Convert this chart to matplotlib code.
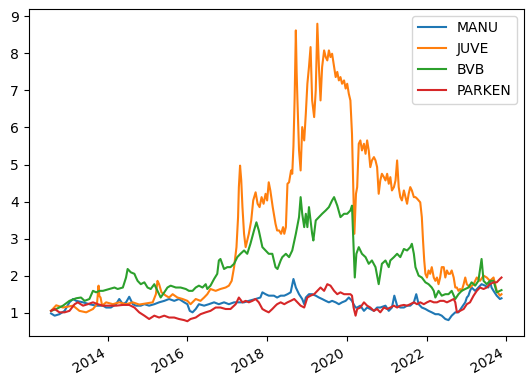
import matplotlib
matplotlib.use("Agg")
import matplotlib.pyplot as plt
import numpy as np
import pandas as pd

# normalised prices (first day = 1), dates as decimal years
manu_t = [2012.58, 2012.67, 2012.79, 2012.92, 2013.04, 2013.13, 2013.21, 2013.38, 2013.54, 2013.71,
          2013.88, 2013.96, 2014.08, 2014.21, 2014.29, 2014.38, 2014.46, 2014.54, 2014.63, 2014.71,
          2014.83, 2014.92, 2015.04, 2015.17, 2015.29, 2015.42, 2015.54, 2015.67, 2015.79, 2015.92,
          2016.00, 2016.06, 2016.13, 2016.21, 2016.29, 2016.42, 2016.54, 2016.67, 2016.79, 2016.92,
          2017.04, 2017.17, 2017.29, 2017.42, 2017.54, 2017.71, 2017.83, 2017.88, 2017.96, 2018.04,
          2018.17, 2018.25, 2018.34, 2018.43, 2018.51, 2018.59, 2018.66, 2018.72, 2018.80, 2018.88,
          2018.93, 2018.97, 2019.05, 2019.13, 2019.22, 2019.30, 2019.38, 2019.47, 2019.55, 2019.63,
          2019.72, 2019.80, 2019.88, 2019.97, 2020.05, 2020.13, 2020.17, 2020.22, 2020.26, 2020.34,
          2020.43, 2020.51, 2020.59, 2020.68, 2020.76, 2020.84, 2020.97, 2021.05, 2021.13, 2021.19,
          2021.26, 2021.34, 2021.43, 2021.51, 2021.59, 2021.68, 2021.74, 2021.80, 2021.88, 2021.97,
          2022.05, 2022.13, 2022.22, 2022.30, 2022.38, 2022.47, 2022.55, 2022.63, 2022.72, 2022.80,
          2022.88, 2022.97, 2023.01, 2023.05, 2023.09, 2023.13, 2023.22, 2023.30, 2023.38, 2023.47,
          2023.55, 2023.59, 2023.63, 2023.68, 2023.76, 2023.84, 2023.88]
manu = [0.98, 0.92, 0.96, 1.05, 1.28, 1.37, 1.32, 1.28, 1.23, 1.19,
        1.19, 1.14, 1.14, 1.23, 1.37, 1.23, 1.28, 1.43, 1.23, 1.19,
        1.19, 1.23, 1.19, 1.23, 1.28, 1.32, 1.37, 1.32, 1.37, 1.28,
        1.23, 1.05, 1.01, 1.10, 1.23, 1.19, 1.23, 1.28, 1.23, 1.28,
        1.23, 1.28, 1.28, 1.28, 1.32, 1.37, 1.41, 1.55, 1.50, 1.46,
        1.46, 1.41, 1.46, 1.46, 1.50, 1.55, 1.91, 1.68, 1.50, 1.37,
        1.23, 1.41, 1.50, 1.50, 1.46, 1.41, 1.37, 1.32, 1.28, 1.32,
        1.28, 1.23, 1.28, 1.32, 1.41, 1.32, 1.23, 1.14, 1.14, 1.19,
        1.05, 1.14, 1.10, 1.05, 1.14, 1.14, 1.19, 1.05, 1.14, 1.46,
        1.19, 1.14, 1.14, 1.19, 1.19, 1.28, 1.50, 1.23, 1.14, 1.10,
        1.05, 1.01, 0.96, 0.96, 0.92, 0.83, 0.80, 0.92, 1.01, 1.01,
        1.14, 1.28, 1.41, 1.46, 1.59, 1.68, 1.59, 1.68, 1.77, 1.73,
        1.68, 1.86, 1.68, 1.59, 1.46, 1.37, 1.39]

juve_t = [2012.58, 2012.71, 2012.88, 2013.13, 2013.29, 2013.46, 2013.63, 2013.73, 2013.77, 2013.79,
          2013.82, 2013.86, 2013.96, 2014.13, 2014.29, 2014.46, 2014.63, 2014.79, 2014.96, 2015.13,
          2015.21, 2015.25, 2015.29, 2015.35, 2015.46, 2015.54, 2015.63, 2015.75, 2015.88, 2016.00,
          2016.08, 2016.21, 2016.33, 2016.42, 2016.50, 2016.58, 2016.71, 2016.83, 2016.96, 2017.04,
          2017.11, 2017.17, 2017.23, 2017.27, 2017.29, 2017.32, 2017.35, 2017.38, 2017.42, 2017.46,
          2017.50, 2017.54, 2017.60, 2017.65, 2017.71, 2017.76, 2017.81, 2017.86, 2017.91, 2017.96,
          2018.00, 2018.04, 2018.08, 2018.14, 2018.21, 2018.25, 2018.30, 2018.35, 2018.40, 2018.43,
          2018.47, 2018.51, 2018.55, 2018.60, 2018.63, 2018.66, 2018.69, 2018.72, 2018.74, 2018.76,
          2018.80, 2018.84, 2018.88, 2018.93, 2018.97, 2019.01, 2019.05, 2019.09, 2019.13, 2019.18,
          2019.22, 2019.26, 2019.30, 2019.34, 2019.38, 2019.43, 2019.47, 2019.51, 2019.55, 2019.59,
          2019.63, 2019.68, 2019.72, 2019.76, 2019.80, 2019.84, 2019.88, 2019.93, 2019.97, 2020.01,
          2020.05, 2020.09, 2020.13, 2020.16, 2020.19, 2020.23, 2020.26, 2020.30, 2020.34, 2020.38,
          2020.43, 2020.47, 2020.51, 2020.55, 2020.59, 2020.63, 2020.68, 2020.72, 2020.76, 2020.80,
          2020.84, 2020.88, 2020.93, 2020.97, 2021.01, 2021.05, 2021.09, 2021.13, 2021.18, 2021.22,
          2021.26, 2021.30, 2021.34, 2021.38, 2021.43, 2021.47, 2021.51, 2021.55, 2021.59, 2021.63,
          2021.68, 2021.72, 2021.76, 2021.80, 2021.84, 2021.88, 2021.91, 2021.94, 2021.97, 2022.01,
          2022.05, 2022.09, 2022.13, 2022.18, 2022.22, 2022.26, 2022.30, 2022.34, 2022.38, 2022.43,
          2022.47, 2022.51, 2022.55, 2022.59, 2022.63, 2022.68, 2022.72, 2022.76, 2022.80, 2022.84,
          2022.88, 2022.93, 2022.97, 2023.01, 2023.09, 2023.18, 2023.26, 2023.34, 2023.43, 2023.51,
          2023.59, 2023.68, 2023.76, 2023.84, 2023.88]
juve = [1.05, 1.20, 1.14, 1.19, 1.05, 1.01, 1.10, 1.23, 1.73, 1.45,
        1.41, 1.19, 1.28, 1.23, 1.28, 1.23, 1.28, 1.22, 1.25, 1.28,
        1.50, 1.86, 1.77, 1.55, 1.46, 1.41, 1.50, 1.41, 1.37, 1.32,
        1.23, 1.37, 1.32, 1.41, 1.50, 1.64, 1.59, 1.64, 1.68, 1.73,
        1.86, 2.23, 2.77, 3.58, 4.39, 4.97, 4.57, 3.85, 3.13, 2.77,
        2.95, 3.13, 3.49, 4.03, 4.25, 3.94, 3.85, 4.12, 3.94, 4.21,
        4.03, 4.52, 4.30, 3.85, 3.40, 3.22, 3.22, 3.13, 3.31, 3.13,
        3.31, 4.48, 4.52, 4.84, 4.75, 5.50, 6.80, 8.62, 7.50, 6.73,
        5.38, 4.84, 6.01, 5.65, 6.37, 7.18, 7.63, 8.17, 6.73, 6.28,
        7.00, 8.80, 7.63, 6.73, 7.63, 8.08, 7.90, 7.81, 8.08, 7.90,
        7.99, 7.63, 7.36, 7.50, 7.27, 7.36, 7.18, 7.27, 7.05, 7.18,
        6.91, 6.73, 5.83, 4.48, 3.13, 4.21, 4.39, 5.56, 5.65, 5.38,
        5.56, 5.29, 5.65, 5.38, 4.93, 5.11, 5.20, 5.11, 4.93, 4.21,
        4.57, 4.75, 4.66, 4.57, 4.75, 4.48, 4.66, 4.30, 4.39, 4.57,
        5.11, 4.39, 4.12, 4.03, 4.30, 4.12, 3.94, 4.21, 4.39, 4.30,
        4.12, 4.12, 4.08, 4.03, 3.98, 3.58, 2.95, 2.41, 2.05, 1.95,
        2.14, 2.05, 2.23, 1.95, 1.86, 1.95, 1.77, 1.95, 2.23, 2.23,
        1.95, 2.14, 2.05, 2.05, 2.14, 1.95, 1.68, 1.68, 1.59, 1.64,
        1.59, 1.77, 1.95, 1.77, 1.68, 1.77, 1.95, 1.86, 2.00, 1.95,
        1.86, 1.95, 1.59, 1.46, 1.50]

bvb_t = [2012.58, 2012.71, 2012.88, 2013.04, 2013.21, 2013.33, 2013.42, 2013.54, 2013.63, 2013.71,
         2013.79, 2013.88, 2014.04, 2014.17, 2014.25, 2014.38, 2014.46, 2014.50, 2014.58, 2014.67,
         2014.71, 2014.75, 2014.83, 2014.92, 2015.00, 2015.08, 2015.17, 2015.25, 2015.33, 2015.42,
         2015.50, 2015.58, 2015.71, 2015.83, 2015.96, 2016.04, 2016.13, 2016.21, 2016.29, 2016.38,
         2016.46, 2016.50, 2016.58, 2016.67, 2016.75, 2016.79, 2016.83, 2016.92, 2017.00, 2017.08,
         2017.17, 2017.25, 2017.33, 2017.42, 2017.50, 2017.58, 2017.67, 2017.73, 2017.79, 2017.88,
         2017.96, 2018.04, 2018.13, 2018.21, 2018.26, 2018.34, 2018.38, 2018.47, 2018.55, 2018.63,
         2018.72, 2018.80, 2018.84, 2018.88, 2018.93, 2018.97, 2019.01, 2019.05, 2019.09, 2019.13,
         2019.16, 2019.22, 2019.30, 2019.38, 2019.47, 2019.55, 2019.63, 2019.68, 2019.76, 2019.84,
         2019.93, 2020.01, 2020.09, 2020.13, 2020.17, 2020.20, 2020.24, 2020.30, 2020.38, 2020.47,
         2020.55, 2020.63, 2020.72, 2020.80, 2020.88, 2020.97, 2021.05, 2021.09, 2021.18, 2021.26,
         2021.34, 2021.43, 2021.51, 2021.59, 2021.63, 2021.68, 2021.72, 2021.80, 2021.88, 2021.97,
         2022.05, 2022.13, 2022.18, 2022.22, 2022.30, 2022.38, 2022.47, 2022.55, 2022.63, 2022.72,
         2022.80, 2022.88, 2022.97, 2023.05, 2023.13, 2023.22, 2023.30, 2023.38, 2023.43, 2023.51,
         2023.59, 2023.68, 2023.76, 2023.84, 2023.88]
bvb = [1.05, 1.10, 1.19, 1.32, 1.39, 1.41, 1.32, 1.37, 1.59, 1.55,
       1.59, 1.59, 1.64, 1.68, 1.64, 1.68, 1.95, 2.18, 2.09, 2.05,
       1.95, 1.86, 1.77, 1.82, 1.68, 1.64, 1.77, 1.59, 1.41, 1.55,
       1.68, 1.73, 1.68, 1.68, 1.64, 1.59, 1.59, 1.68, 1.73, 1.68,
       1.77, 1.64, 1.73, 1.91, 2.05, 2.41, 2.45, 2.18, 2.23, 2.23,
       2.32, 2.50, 2.59, 2.68, 2.59, 2.86, 3.22, 3.44, 3.22, 2.77,
       2.68, 2.59, 2.59, 2.23, 2.18, 2.41, 2.50, 2.59, 2.50, 2.68,
       3.13, 3.58, 4.12, 3.67, 3.31, 3.67, 3.31, 3.85, 3.49, 3.13,
       2.95, 3.49, 3.58, 3.67, 3.76, 3.85, 4.03, 4.12, 3.89, 3.58,
       3.67, 3.67, 3.76, 3.89, 2.77, 1.95, 2.59, 2.77, 2.59, 2.50,
       2.32, 2.41, 2.23, 1.77, 2.32, 2.41, 2.23, 2.41, 2.50, 2.59,
       2.50, 2.72, 2.68, 2.77, 2.86, 2.59, 2.23, 2.00, 1.95, 1.82,
       1.77, 1.68, 1.59, 1.41, 1.59, 1.46, 1.50, 1.50, 1.59, 1.37,
       1.50, 1.59, 1.64, 1.68, 1.82, 1.73, 1.86, 2.45, 1.86, 1.77,
       1.86, 1.86, 1.55, 1.59, 1.61]

parken_t = [2012.58, 2012.67, 2012.79, 2012.92, 2013.04, 2013.17, 2013.25, 2013.38, 2013.50, 2013.63,
            2013.75, 2013.88, 2014.04, 2014.21, 2014.38, 2014.54, 2014.67, 2014.79, 2014.92, 2015.04,
            2015.17, 2015.29, 2015.42, 2015.54, 2015.67, 2015.79, 2015.92, 2016.00, 2016.08, 2016.21,
            2016.33, 2016.46, 2016.58, 2016.71, 2016.83, 2016.96, 2017.08, 2017.21, 2017.29, 2017.38,
            2017.46, 2017.54, 2017.63, 2017.71, 2017.79, 2017.88, 2017.96, 2018.04, 2018.13, 2018.21,
            2018.25, 2018.34, 2018.43, 2018.51, 2018.59, 2018.68, 2018.76, 2018.84, 2018.93, 2019.01,
            2019.09, 2019.18, 2019.26, 2019.34, 2019.43, 2019.51, 2019.59, 2019.68, 2019.76, 2019.84,
            2019.93, 2020.01, 2020.09, 2020.13, 2020.17, 2020.22, 2020.26, 2020.34, 2020.43, 2020.51,
            2020.59, 2020.68, 2020.76, 2020.84, 2020.93, 2021.01, 2021.09, 2021.18, 2021.26, 2021.34,
            2021.43, 2021.51, 2021.59, 2021.68, 2021.76, 2021.84, 2021.93, 2022.01, 2022.09, 2022.18,
            2022.26, 2022.34, 2022.43, 2022.51, 2022.59, 2022.68, 2022.72, 2022.76, 2022.84, 2022.93,
            2023.01, 2023.09, 2023.18, 2023.26, 2023.34, 2023.43, 2023.51, 2023.59, 2023.68, 2023.76,
            2023.84, 2023.88]
parken = [1.05, 1.10, 1.01, 1.01, 1.05, 1.23, 1.28, 1.19, 1.23, 1.28,
          1.23, 1.19, 1.19, 1.19, 1.21, 1.21, 1.14, 1.01, 0.92, 0.83,
          0.92, 0.87, 0.92, 0.87, 0.87, 0.83, 0.80, 0.77, 0.83, 0.87,
          0.96, 1.01, 1.05, 1.14, 1.14, 1.10, 1.10, 1.23, 1.41, 1.28,
          1.32, 1.28, 1.32, 1.37, 1.28, 1.10, 1.05, 1.01, 1.10, 1.19,
          1.23, 1.28, 1.23, 1.28, 1.32, 1.37, 1.28, 1.19, 1.14, 1.41,
          1.46, 1.50, 1.59, 1.68, 1.59, 1.77, 1.73, 1.59, 1.50, 1.55,
          1.50, 1.50, 1.50, 1.46, 1.14, 0.92, 1.10, 1.14, 1.28, 1.19,
          1.14, 1.05, 1.10, 1.01, 1.14, 1.10, 1.14, 1.19, 1.14, 1.19,
          1.21, 1.19, 1.23, 1.28, 1.23, 1.28, 1.23, 1.28, 1.32, 1.28,
          1.28, 1.32, 1.32, 1.28, 1.32, 1.37, 1.28, 1.01, 1.05, 1.10,
          1.23, 1.28, 1.46, 1.59, 1.68, 1.64, 1.68, 1.77, 1.82, 1.82,
          1.91, 1.95]


def to_dates(years):
    years = np.asarray(years)
    base = pd.to_datetime(np.floor(years).astype(int).astype(str) + "-01-01")
    return base + pd.to_timedelta((years - np.floor(years)) * 365.25, unit="D")


fig = plt.figure(figsize=(5.32, 3.85), dpi=100)
ax = fig.add_axes([0.0536, 0.127, 0.9314, 0.850])

ax.plot(to_dates(manu_t), manu, label="MANU")
ax.plot(to_dates(juve_t), juve, label="JUVE")
ax.plot(to_dates(bvb_t), bvb, label="BVB")
ax.plot(to_dates(parken_t), parken, label="PARKEN")
ax.legend(loc="upper right")

plt.setp(ax.get_xticklabels(), rotation=30, ha="right")

fig.savefig("out.png", dpi=100)
